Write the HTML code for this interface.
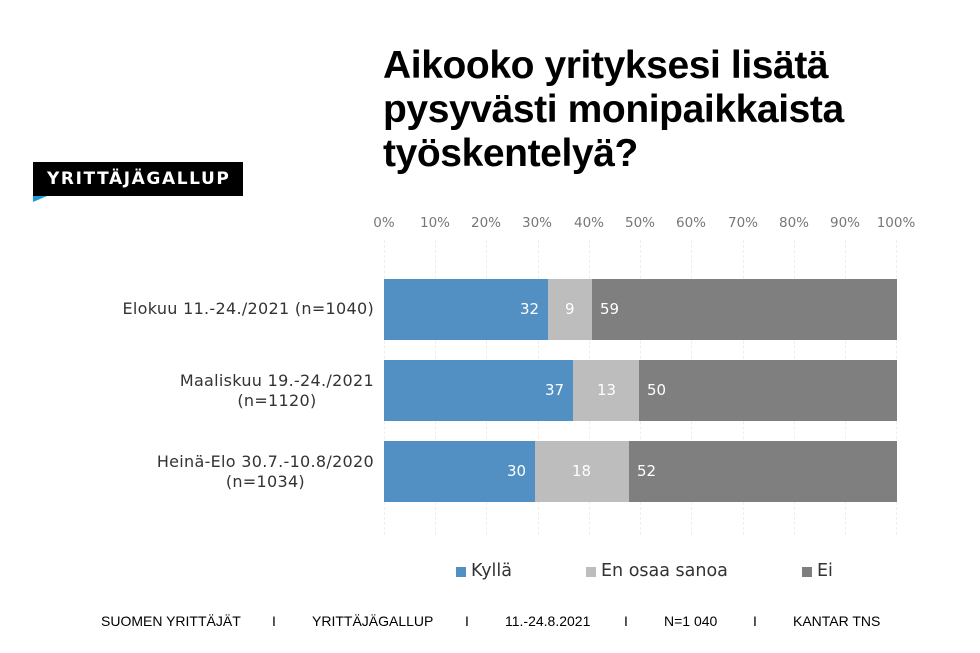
<!DOCTYPE html>
<html><head><meta charset="utf-8"><style>
body{margin:0;width:980px;height:653px;background:#fff;position:relative;overflow:hidden;font-family:"DejaVu Sans",sans-serif}
.a{position:absolute}
.title{left:383px;top:44px;font:bold 39px/44px "Liberation Sans",sans-serif;color:#000;letter-spacing:-0.4px}
.tick{top:215px;font-size:13.5px;color:#777;width:50px;text-align:center}
.g{top:240px;height:295px;width:0;border-left:1px dashed #eee}
.bar{height:61px}
.v{color:#fff;font-size:15px;top:0;line-height:61px}
.lab{font-size:16px;color:#333;text-align:center;right:606px;line-height:20px;white-space:nowrap;letter-spacing:0.3px}
.foot{top:613px;font:14px "Liberation Sans",sans-serif;color:#000}
.lg{font-size:17.5px;color:#333;top:561px}
</style></head><body>
<div class="a title">Aikooko yrityksesi lisätä<br>pysyvästi monipaikkaista<br>työskentelyä?</div>
<div class="a" style="left:33px;top:162px;width:210px;height:34px;background:#000"></div>
<div class="a" style="left:33px;top:196px;width:0;height:0;border-top:6px solid #1a9ad6;border-right:14px solid transparent"></div>
<div class="a" style="left:47px;top:168px;color:#fff;font:bold 17px/22px 'DejaVu Sans',sans-serif;letter-spacing:1.6px">YRITTÄJÄGALLUP</div>

<div class="a tick" style="left:359px">0%</div>
<div class="a tick" style="left:410px">10%</div>
<div class="a tick" style="left:461px">20%</div>
<div class="a tick" style="left:512px">30%</div>
<div class="a tick" style="left:564px">40%</div>
<div class="a tick" style="left:615px">50%</div>
<div class="a tick" style="left:666px">60%</div>
<div class="a tick" style="left:718px">70%</div>
<div class="a tick" style="left:769px">80%</div>
<div class="a tick" style="left:820px">90%</div>
<div class="a tick" style="left:871px">100%</div>
<div class="a g" style="left:384px"></div><div class="a g" style="left:435px"></div><div class="a g" style="left:486px"></div><div class="a g" style="left:538px"></div><div class="a g" style="left:589px"></div><div class="a g" style="left:640px"></div><div class="a g" style="left:691px"></div><div class="a g" style="left:743px"></div><div class="a g" style="left:794px"></div><div class="a g" style="left:845px"></div><div class="a g" style="left:896px"></div>

<div class="a lab" style="top:299px">Elokuu 11.-24./2021 (n=1040)</div>
<div class="a lab" style="top:371px">Maaliskuu 19.-24./2021<br>(n=1120)</div>
<div class="a lab" style="top:452px">Heinä-Elo 30.7.-10.8/2020<br>(n=1034)</div>

<div class="a bar" style="left:384px;top:279px;width:164px;background:#5290c4"></div>
<div class="a bar" style="left:548px;top:279px;width:44px;background:#bdbdbd"></div>
<div class="a bar" style="left:592px;top:279px;width:305px;background:#7f7f7f"></div>
<div class="a v" style="left:520px;top:279px">32</div><div class="a v" style="left:565px;top:279px">9</div><div class="a v" style="left:600px;top:279px">59</div>

<div class="a bar" style="left:384px;top:360px;width:189px;background:#5290c4"></div>
<div class="a bar" style="left:573px;top:360px;width:66px;background:#bdbdbd"></div>
<div class="a bar" style="left:639px;top:360px;width:258px;background:#7f7f7f"></div>
<div class="a v" style="left:545px;top:360px">37</div><div class="a v" style="left:597px;top:360px">13</div><div class="a v" style="left:647px;top:360px">50</div>

<div class="a bar" style="left:384px;top:441px;width:151px;background:#5290c4"></div>
<div class="a bar" style="left:535px;top:441px;width:94px;background:#bdbdbd"></div>
<div class="a bar" style="left:629px;top:441px;width:268px;background:#7f7f7f"></div>
<div class="a v" style="left:507px;top:441px">30</div><div class="a v" style="left:572px;top:441px">18</div><div class="a v" style="left:637px;top:441px">52</div>

<div class="a" style="left:456px;top:567px;width:10px;height:10px;background:#5290c4"></div>
<div class="a lg" style="left:471px">Kyllä</div>
<div class="a" style="left:586px;top:567px;width:10px;height:10px;background:#bdbdbd"></div>
<div class="a lg" style="left:601px">En osaa sanoa</div>
<div class="a" style="left:802px;top:567px;width:10px;height:10px;background:#7f7f7f"></div>
<div class="a lg" style="left:817px">Ei</div>

<div class="a foot" style="left:101px">SUOMEN YRITTÄJÄT</div>
<div class="a foot" style="left:272px">I</div>
<div class="a foot" style="left:312px">YRITTÄJÄGALLUP</div>
<div class="a foot" style="left:465px">I</div>
<div class="a foot" style="left:505px">11.-24.8.2021</div>
<div class="a foot" style="left:624px">I</div>
<div class="a foot" style="left:664px">N=1 040</div>
<div class="a foot" style="left:753px">I</div>
<div class="a foot" style="left:793px">KANTAR TNS</div>
</body></html>
